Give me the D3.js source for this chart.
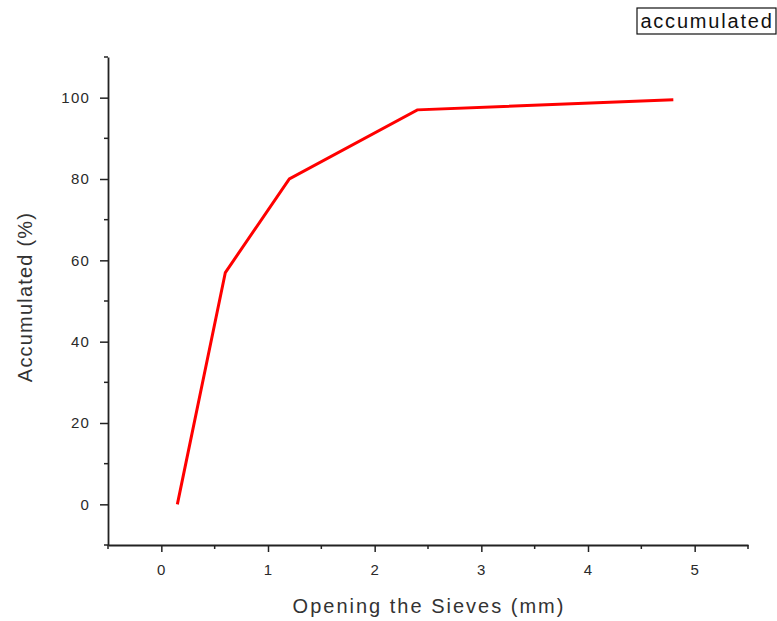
<!DOCTYPE html>
<html>
<head>
<meta charset="utf-8">
<script src="https://cdn.jsdelivr.net/npm/d3@7/dist/d3.min.js"></script>
<style>
  html, body { margin: 0; padding: 0; background: #fff; }
  svg { display: block; font-family: "Liberation Sans", Arial, sans-serif; }
</style>
</head>
<body>
<svg id="chart" width="777" height="621"></svg>
<script>
// Sieve openings (mm) and cumulative passing (%)
const sieveOpenings = [0.15, 0.6, 1.2, 2.4, 4.8];
const accumulated = [0, 57, 80, 97, 99.5];
const xTicks = [0, 1, 2, 3, 4, 5];
const yTicks = [0, 20, 40, 60, 80, 100];
const seriesName = "accumulated";

const svg = d3.select("#chart");
const margin = { left: 108, right: 29, top: 57, bottom: 76 };
const W = 777, H = 621;

const x = d3.scaleLinear().domain([-0.5, 5.5]).range([margin.left, W - margin.right]);
const y = d3.scaleLinear().domain([-10, 110]).range([H - margin.bottom, margin.top]);

const axisColor = "#222";

// X axis: major ticks with labels, minor ticks every 0.5
const xMinor = d3.range(-0.5, 5.51, 0.5).filter(v => Math.abs(v - Math.round(v)) > 1e-6);
const xg = svg.append("g").attr("transform", `translate(0,${y(-10)})`);
xg.call(d3.axisBottom(x).tickValues(xTicks).tickFormat(d3.format("d"))
  .tickSize(7).tickPadding(12).tickSizeOuter(0));
xg.append("g").selectAll("line").data(xMinor).join("line")
  .attr("x1", d => x(d)).attr("x2", d => x(d)).attr("y1", 0).attr("y2", 4)
  .attr("stroke", axisColor).attr("stroke-width", 1.5);

// Y axis: major ticks with labels, minor ticks every 10
const yMinor = d3.range(-10, 111, 20);
const yg = svg.append("g").attr("transform", `translate(${x(-0.5)},0)`);
yg.call(d3.axisLeft(y).tickValues(yTicks).tickFormat(d3.format("d"))
  .tickSize(8).tickPadding(10).tickSizeOuter(0));
yg.append("g").selectAll("line").data(yMinor).join("line")
  .attr("y1", d => y(d)).attr("y2", d => y(d)).attr("x1", 0).attr("x2", -4)
  .attr("stroke", axisColor).attr("stroke-width", 1.5);

[xg, yg].forEach(g => {
  g.select(".domain").attr("stroke", axisColor).attr("stroke-width", 1.8);
  g.selectAll(".tick line").attr("stroke", axisColor).attr("stroke-width", 1.5);
  g.selectAll(".tick text").attr("fill", "#2a2a2a").attr("font-size", 15)
    .attr("font-family", "'Liberation Sans', Arial, sans-serif").style("letter-spacing", "1.2px");
});

// Cumulative curve
const line = d3.line().x((d, i) => x(sieveOpenings[i])).y(d => y(d));
svg.append("path").datum(accumulated)
  .attr("d", line).attr("fill", "none")
  .attr("stroke", "#ff0000").attr("stroke-width", 3).attr("stroke-linejoin", "miter");

// Axis titles
svg.append("text")
  .attr("x", x(2.5) + 1).attr("y", 613)
  .attr("text-anchor", "middle").attr("font-size", 20).attr("fill", "#333")
  .style("letter-spacing", "2px")
  .text("Opening the Sieves (mm)");

svg.append("text")
  .attr("transform", `translate(32,297) rotate(-90)`)
  .attr("text-anchor", "middle").attr("font-size", 20).attr("fill", "#333")
  .style("letter-spacing", "1.2px")
  .text("Accumulated (%)");

// Legend
const lg = svg.append("g").attr("transform", "translate(637,8)");
lg.append("rect").attr("width", 139).attr("height", 26)
  .attr("fill", "#fff").attr("stroke", "#111").attr("stroke-width", 1.2);
lg.append("text").attr("x", 70).attr("y", 20).attr("text-anchor", "middle")
  .attr("font-size", 20).attr("fill", "#111").style("letter-spacing", "1.8px")
  .text(seriesName);
</script>
</body>
</html>
